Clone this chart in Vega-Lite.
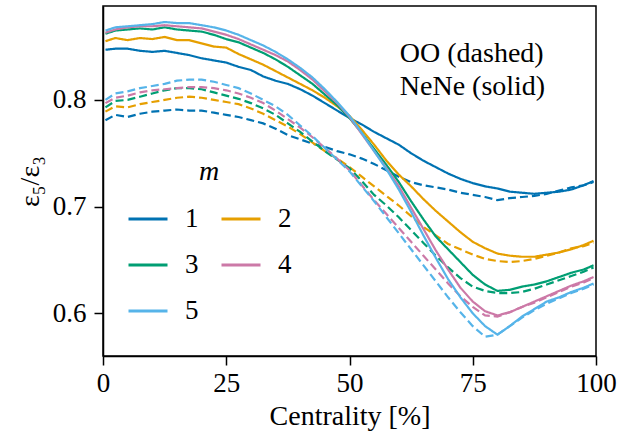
{
"$schema": "https://vega.github.io/schema/vega-lite/v6.json",
"width": 493, "height": 350,
"autosize": {"type": "none"},
"padding": {"left": 103, "top": 6, "right": 23, "bottom": 76},
"config": {
  "font": "Liberation Serif",
  "view": {"stroke": "black", "strokeWidth": 1.5}
},
"layer": [
{
"data": {"values": [
{"m":"1","c":"OO","x":0.5,"y":0.781},{"m":"1","c":"OO","x":2.5,"y":0.786},{"m":"1","c":"OO","x":5,"y":0.784},{"m":"1","c":"OO","x":7.5,"y":0.787},{"m":"1","c":"OO","x":10,"y":0.789},{"m":"1","c":"OO","x":12.5,"y":0.790},{"m":"1","c":"OO","x":15,"y":0.791},{"m":"1","c":"OO","x":17.5,"y":0.790},{"m":"1","c":"OO","x":20,"y":0.790},{"m":"1","c":"OO","x":22.5,"y":0.788},{"m":"1","c":"OO","x":25,"y":0.786},{"m":"1","c":"OO","x":27.5,"y":0.784},{"m":"1","c":"OO","x":30,"y":0.781},{"m":"1","c":"OO","x":32.5,"y":0.778},{"m":"1","c":"OO","x":35,"y":0.773},{"m":"1","c":"OO","x":37.5,"y":0.767},{"m":"1","c":"OO","x":40,"y":0.763},{"m":"1","c":"OO","x":42.5,"y":0.759},{"m":"1","c":"OO","x":45,"y":0.756},{"m":"1","c":"OO","x":47.5,"y":0.752},{"m":"1","c":"OO","x":50,"y":0.749},{"m":"1","c":"OO","x":52.5,"y":0.745},{"m":"1","c":"OO","x":55,"y":0.740},{"m":"1","c":"OO","x":57.5,"y":0.734},{"m":"1","c":"OO","x":60,"y":0.728},{"m":"1","c":"OO","x":62.5,"y":0.723},{"m":"1","c":"OO","x":65,"y":0.720},{"m":"1","c":"OO","x":67.5,"y":0.718},{"m":"1","c":"OO","x":70,"y":0.716},{"m":"1","c":"OO","x":72.5,"y":0.713},{"m":"1","c":"OO","x":75,"y":0.711},{"m":"1","c":"OO","x":77.5,"y":0.709},{"m":"1","c":"OO","x":80,"y":0.706},{"m":"1","c":"OO","x":82.5,"y":0.708},{"m":"1","c":"OO","x":85,"y":0.709},{"m":"1","c":"OO","x":87.5,"y":0.710},{"m":"1","c":"OO","x":90,"y":0.712},{"m":"1","c":"OO","x":92.5,"y":0.715},{"m":"1","c":"OO","x":95,"y":0.718},{"m":"1","c":"OO","x":97.5,"y":0.720},{"m":"1","c":"OO","x":99.5,"y":0.723},
{"m":"1","c":"NeNe","x":0.5,"y":0.847},{"m":"1","c":"NeNe","x":2.5,"y":0.848},{"m":"1","c":"NeNe","x":5,"y":0.848},{"m":"1","c":"NeNe","x":7.5,"y":0.846},{"m":"1","c":"NeNe","x":10,"y":0.845},{"m":"1","c":"NeNe","x":12.5,"y":0.846},{"m":"1","c":"NeNe","x":15,"y":0.844},{"m":"1","c":"NeNe","x":17.5,"y":0.842},{"m":"1","c":"NeNe","x":20,"y":0.839},{"m":"1","c":"NeNe","x":22.5,"y":0.837},{"m":"1","c":"NeNe","x":25,"y":0.835},{"m":"1","c":"NeNe","x":27.5,"y":0.831},{"m":"1","c":"NeNe","x":30,"y":0.828},{"m":"1","c":"NeNe","x":32.5,"y":0.822},{"m":"1","c":"NeNe","x":35,"y":0.818},{"m":"1","c":"NeNe","x":37.5,"y":0.815},{"m":"1","c":"NeNe","x":40,"y":0.810},{"m":"1","c":"NeNe","x":42.5,"y":0.804},{"m":"1","c":"NeNe","x":45,"y":0.797},{"m":"1","c":"NeNe","x":47.5,"y":0.790},{"m":"1","c":"NeNe","x":50,"y":0.783},{"m":"1","c":"NeNe","x":52.5,"y":0.777},{"m":"1","c":"NeNe","x":55,"y":0.770},{"m":"1","c":"NeNe","x":57.5,"y":0.764},{"m":"1","c":"NeNe","x":60,"y":0.758},{"m":"1","c":"NeNe","x":62.5,"y":0.750},{"m":"1","c":"NeNe","x":65,"y":0.743},{"m":"1","c":"NeNe","x":67.5,"y":0.737},{"m":"1","c":"NeNe","x":70,"y":0.731},{"m":"1","c":"NeNe","x":72.5,"y":0.726},{"m":"1","c":"NeNe","x":75,"y":0.722},{"m":"1","c":"NeNe","x":77.5,"y":0.719},{"m":"1","c":"NeNe","x":80,"y":0.717},{"m":"1","c":"NeNe","x":82.5,"y":0.714},{"m":"1","c":"NeNe","x":85,"y":0.713},{"m":"1","c":"NeNe","x":87.5,"y":0.712},{"m":"1","c":"NeNe","x":90,"y":0.713},{"m":"1","c":"NeNe","x":92.5,"y":0.714},{"m":"1","c":"NeNe","x":95,"y":0.716},{"m":"1","c":"NeNe","x":97.5,"y":0.720},{"m":"1","c":"NeNe","x":99.5,"y":0.724},
{"m":"2","c":"OO","x":0.5,"y":0.789},{"m":"2","c":"OO","x":2.5,"y":0.794},{"m":"2","c":"OO","x":5,"y":0.793},{"m":"2","c":"OO","x":7.5,"y":0.796},{"m":"2","c":"OO","x":10,"y":0.798},{"m":"2","c":"OO","x":12.5,"y":0.800},{"m":"2","c":"OO","x":15,"y":0.802},{"m":"2","c":"OO","x":17.5,"y":0.803},{"m":"2","c":"OO","x":20,"y":0.802},{"m":"2","c":"OO","x":22.5,"y":0.800},{"m":"2","c":"OO","x":25,"y":0.798},{"m":"2","c":"OO","x":27.5,"y":0.796},{"m":"2","c":"OO","x":30,"y":0.792},{"m":"2","c":"OO","x":32.5,"y":0.787},{"m":"2","c":"OO","x":35,"y":0.781},{"m":"2","c":"OO","x":37.5,"y":0.775},{"m":"2","c":"OO","x":40,"y":0.768},{"m":"2","c":"OO","x":42.5,"y":0.760},{"m":"2","c":"OO","x":45,"y":0.752},{"m":"2","c":"OO","x":47.5,"y":0.745},{"m":"2","c":"OO","x":50,"y":0.737},{"m":"2","c":"OO","x":52.5,"y":0.728},{"m":"2","c":"OO","x":55,"y":0.719},{"m":"2","c":"OO","x":57.5,"y":0.710},{"m":"2","c":"OO","x":60,"y":0.701},{"m":"2","c":"OO","x":62.5,"y":0.691},{"m":"2","c":"OO","x":65,"y":0.681},{"m":"2","c":"OO","x":67.5,"y":0.673},{"m":"2","c":"OO","x":70,"y":0.665},{"m":"2","c":"OO","x":72.5,"y":0.660},{"m":"2","c":"OO","x":75,"y":0.655},{"m":"2","c":"OO","x":77.5,"y":0.651},{"m":"2","c":"OO","x":80,"y":0.649},{"m":"2","c":"OO","x":82.5,"y":0.648},{"m":"2","c":"OO","x":85,"y":0.649},{"m":"2","c":"OO","x":87.5,"y":0.651},{"m":"2","c":"OO","x":90,"y":0.654},{"m":"2","c":"OO","x":92.5,"y":0.657},{"m":"2","c":"OO","x":95,"y":0.661},{"m":"2","c":"OO","x":97.5,"y":0.663},{"m":"2","c":"OO","x":99.5,"y":0.666},
{"m":"2","c":"NeNe","x":0.5,"y":0.855},{"m":"2","c":"NeNe","x":2.5,"y":0.858},{"m":"2","c":"NeNe","x":5,"y":0.856},{"m":"2","c":"NeNe","x":7.5,"y":0.858},{"m":"2","c":"NeNe","x":10,"y":0.857},{"m":"2","c":"NeNe","x":12.5,"y":0.859},{"m":"2","c":"NeNe","x":15,"y":0.856},{"m":"2","c":"NeNe","x":17.5,"y":0.856},{"m":"2","c":"NeNe","x":20,"y":0.853},{"m":"2","c":"NeNe","x":22.5,"y":0.850},{"m":"2","c":"NeNe","x":25,"y":0.849},{"m":"2","c":"NeNe","x":27.5,"y":0.843},{"m":"2","c":"NeNe","x":30,"y":0.838},{"m":"2","c":"NeNe","x":32.5,"y":0.833},{"m":"2","c":"NeNe","x":35,"y":0.827},{"m":"2","c":"NeNe","x":37.5,"y":0.821},{"m":"2","c":"NeNe","x":40,"y":0.815},{"m":"2","c":"NeNe","x":42.5,"y":0.809},{"m":"2","c":"NeNe","x":45,"y":0.802},{"m":"2","c":"NeNe","x":47.5,"y":0.794},{"m":"2","c":"NeNe","x":50,"y":0.785},{"m":"2","c":"NeNe","x":52.5,"y":0.772},{"m":"2","c":"NeNe","x":55,"y":0.758},{"m":"2","c":"NeNe","x":57.5,"y":0.743},{"m":"2","c":"NeNe","x":60,"y":0.730},{"m":"2","c":"NeNe","x":62.5,"y":0.719},{"m":"2","c":"NeNe","x":65,"y":0.707},{"m":"2","c":"NeNe","x":67.5,"y":0.696},{"m":"2","c":"NeNe","x":70,"y":0.686},{"m":"2","c":"NeNe","x":72.5,"y":0.676},{"m":"2","c":"NeNe","x":75,"y":0.667},{"m":"2","c":"NeNe","x":77.5,"y":0.661},{"m":"2","c":"NeNe","x":80,"y":0.656},{"m":"2","c":"NeNe","x":82.5,"y":0.654},{"m":"2","c":"NeNe","x":85,"y":0.653},{"m":"2","c":"NeNe","x":87.5,"y":0.653},{"m":"2","c":"NeNe","x":90,"y":0.655},{"m":"2","c":"NeNe","x":92.5,"y":0.657},{"m":"2","c":"NeNe","x":95,"y":0.660},{"m":"2","c":"NeNe","x":97.5,"y":0.664},{"m":"2","c":"NeNe","x":99.5,"y":0.668},
{"m":"3","c":"OO","x":0.5,"y":0.793},{"m":"3","c":"OO","x":2.5,"y":0.799},{"m":"3","c":"OO","x":5,"y":0.800},{"m":"3","c":"OO","x":7.5,"y":0.803},{"m":"3","c":"OO","x":10,"y":0.806},{"m":"3","c":"OO","x":12.5,"y":0.809},{"m":"3","c":"OO","x":15,"y":0.811},{"m":"3","c":"OO","x":17.5,"y":0.811},{"m":"3","c":"OO","x":20,"y":0.810},{"m":"3","c":"OO","x":22.5,"y":0.807},{"m":"3","c":"OO","x":25,"y":0.804},{"m":"3","c":"OO","x":27.5,"y":0.801},{"m":"3","c":"OO","x":30,"y":0.797},{"m":"3","c":"OO","x":32.5,"y":0.792},{"m":"3","c":"OO","x":35,"y":0.786},{"m":"3","c":"OO","x":37.5,"y":0.778},{"m":"3","c":"OO","x":40,"y":0.770},{"m":"3","c":"OO","x":42.5,"y":0.761},{"m":"3","c":"OO","x":45,"y":0.752},{"m":"3","c":"OO","x":47.5,"y":0.744},{"m":"3","c":"OO","x":50,"y":0.736},{"m":"3","c":"OO","x":52.5,"y":0.724},{"m":"3","c":"OO","x":55,"y":0.711},{"m":"3","c":"OO","x":57.5,"y":0.701},{"m":"3","c":"OO","x":60,"y":0.690},{"m":"3","c":"OO","x":62.5,"y":0.678},{"m":"3","c":"OO","x":65,"y":0.666},{"m":"3","c":"OO","x":67.5,"y":0.654},{"m":"3","c":"OO","x":70,"y":0.643},{"m":"3","c":"OO","x":72.5,"y":0.633},{"m":"3","c":"OO","x":75,"y":0.625},{"m":"3","c":"OO","x":77.5,"y":0.621},{"m":"3","c":"OO","x":80,"y":0.619},{"m":"3","c":"OO","x":82.5,"y":0.619},{"m":"3","c":"OO","x":85,"y":0.620},{"m":"3","c":"OO","x":87.5,"y":0.623},{"m":"3","c":"OO","x":90,"y":0.627},{"m":"3","c":"OO","x":92.5,"y":0.631},{"m":"3","c":"OO","x":95,"y":0.635},{"m":"3","c":"OO","x":97.5,"y":0.639},{"m":"3","c":"OO","x":99.5,"y":0.643},
{"m":"3","c":"NeNe","x":0.5,"y":0.862},{"m":"3","c":"NeNe","x":2.5,"y":0.865},{"m":"3","c":"NeNe","x":5,"y":0.866},{"m":"3","c":"NeNe","x":7.5,"y":0.867},{"m":"3","c":"NeNe","x":10,"y":0.866},{"m":"3","c":"NeNe","x":12.5,"y":0.868},{"m":"3","c":"NeNe","x":15,"y":0.866},{"m":"3","c":"NeNe","x":17.5,"y":0.865},{"m":"3","c":"NeNe","x":20,"y":0.864},{"m":"3","c":"NeNe","x":22.5,"y":0.861},{"m":"3","c":"NeNe","x":25,"y":0.857},{"m":"3","c":"NeNe","x":27.5,"y":0.854},{"m":"3","c":"NeNe","x":30,"y":0.849},{"m":"3","c":"NeNe","x":32.5,"y":0.844},{"m":"3","c":"NeNe","x":35,"y":0.838},{"m":"3","c":"NeNe","x":37.5,"y":0.831},{"m":"3","c":"NeNe","x":40,"y":0.823},{"m":"3","c":"NeNe","x":42.5,"y":0.815},{"m":"3","c":"NeNe","x":45,"y":0.805},{"m":"3","c":"NeNe","x":47.5,"y":0.795},{"m":"3","c":"NeNe","x":50,"y":0.783},{"m":"3","c":"NeNe","x":52.5,"y":0.769},{"m":"3","c":"NeNe","x":55,"y":0.754},{"m":"3","c":"NeNe","x":57.5,"y":0.739},{"m":"3","c":"NeNe","x":60,"y":0.723},{"m":"3","c":"NeNe","x":62.5,"y":0.705},{"m":"3","c":"NeNe","x":65,"y":0.688},{"m":"3","c":"NeNe","x":67.5,"y":0.672},{"m":"3","c":"NeNe","x":70,"y":0.660},{"m":"3","c":"NeNe","x":72.5,"y":0.648},{"m":"3","c":"NeNe","x":75,"y":0.636},{"m":"3","c":"NeNe","x":77.5,"y":0.627},{"m":"3","c":"NeNe","x":80,"y":0.621},{"m":"3","c":"NeNe","x":82.5,"y":0.622},{"m":"3","c":"NeNe","x":85,"y":0.625},{"m":"3","c":"NeNe","x":87.5,"y":0.627},{"m":"3","c":"NeNe","x":90,"y":0.630},{"m":"3","c":"NeNe","x":92.5,"y":0.634},{"m":"3","c":"NeNe","x":95,"y":0.638},{"m":"3","c":"NeNe","x":97.5,"y":0.641},{"m":"3","c":"NeNe","x":99.5,"y":0.645},
{"m":"4","c":"OO","x":0.5,"y":0.797},{"m":"4","c":"OO","x":2.5,"y":0.802},{"m":"4","c":"OO","x":5,"y":0.804},{"m":"4","c":"OO","x":7.5,"y":0.807},{"m":"4","c":"OO","x":10,"y":0.809},{"m":"4","c":"OO","x":12.5,"y":0.810},{"m":"4","c":"OO","x":15,"y":0.811},{"m":"4","c":"OO","x":17.5,"y":0.812},{"m":"4","c":"OO","x":20,"y":0.812},{"m":"4","c":"OO","x":22.5,"y":0.811},{"m":"4","c":"OO","x":25,"y":0.809},{"m":"4","c":"OO","x":27.5,"y":0.806},{"m":"4","c":"OO","x":30,"y":0.802},{"m":"4","c":"OO","x":32.5,"y":0.797},{"m":"4","c":"OO","x":35,"y":0.790},{"m":"4","c":"OO","x":37.5,"y":0.782},{"m":"4","c":"OO","x":40,"y":0.774},{"m":"4","c":"OO","x":42.5,"y":0.765},{"m":"4","c":"OO","x":45,"y":0.755},{"m":"4","c":"OO","x":47.5,"y":0.745},{"m":"4","c":"OO","x":50,"y":0.734},{"m":"4","c":"OO","x":52.5,"y":0.720},{"m":"4","c":"OO","x":55,"y":0.706},{"m":"4","c":"OO","x":57.5,"y":0.693},{"m":"4","c":"OO","x":60,"y":0.680},{"m":"4","c":"OO","x":62.5,"y":0.667},{"m":"4","c":"OO","x":65,"y":0.654},{"m":"4","c":"OO","x":67.5,"y":0.641},{"m":"4","c":"OO","x":70,"y":0.628},{"m":"4","c":"OO","x":72.5,"y":0.616},{"m":"4","c":"OO","x":75,"y":0.606},{"m":"4","c":"OO","x":77.5,"y":0.598},{"m":"4","c":"OO","x":80,"y":0.597},{"m":"4","c":"OO","x":82.5,"y":0.601},{"m":"4","c":"OO","x":85,"y":0.606},{"m":"4","c":"OO","x":87.5,"y":0.610},{"m":"4","c":"OO","x":90,"y":0.615},{"m":"4","c":"OO","x":92.5,"y":0.620},{"m":"4","c":"OO","x":95,"y":0.625},{"m":"4","c":"OO","x":97.5,"y":0.629},{"m":"4","c":"OO","x":99.5,"y":0.633},
{"m":"4","c":"NeNe","x":0.5,"y":0.863},{"m":"4","c":"NeNe","x":2.5,"y":0.866},{"m":"4","c":"NeNe","x":5,"y":0.868},{"m":"4","c":"NeNe","x":7.5,"y":0.869},{"m":"4","c":"NeNe","x":10,"y":0.869},{"m":"4","c":"NeNe","x":12.5,"y":0.870},{"m":"4","c":"NeNe","x":15,"y":0.869},{"m":"4","c":"NeNe","x":17.5,"y":0.868},{"m":"4","c":"NeNe","x":20,"y":0.867},{"m":"4","c":"NeNe","x":22.5,"y":0.864},{"m":"4","c":"NeNe","x":25,"y":0.861},{"m":"4","c":"NeNe","x":27.5,"y":0.857},{"m":"4","c":"NeNe","x":30,"y":0.852},{"m":"4","c":"NeNe","x":32.5,"y":0.847},{"m":"4","c":"NeNe","x":35,"y":0.842},{"m":"4","c":"NeNe","x":37.5,"y":0.836},{"m":"4","c":"NeNe","x":40,"y":0.828},{"m":"4","c":"NeNe","x":42.5,"y":0.819},{"m":"4","c":"NeNe","x":45,"y":0.808},{"m":"4","c":"NeNe","x":47.5,"y":0.797},{"m":"4","c":"NeNe","x":50,"y":0.784},{"m":"4","c":"NeNe","x":52.5,"y":0.768},{"m":"4","c":"NeNe","x":55,"y":0.752},{"m":"4","c":"NeNe","x":57.5,"y":0.736},{"m":"4","c":"NeNe","x":60,"y":0.719},{"m":"4","c":"NeNe","x":62.5,"y":0.699},{"m":"4","c":"NeNe","x":65,"y":0.679},{"m":"4","c":"NeNe","x":67.5,"y":0.659},{"m":"4","c":"NeNe","x":70,"y":0.641},{"m":"4","c":"NeNe","x":72.5,"y":0.624},{"m":"4","c":"NeNe","x":75,"y":0.611},{"m":"4","c":"NeNe","x":77.5,"y":0.602},{"m":"4","c":"NeNe","x":80,"y":0.598},{"m":"4","c":"NeNe","x":82.5,"y":0.601},{"m":"4","c":"NeNe","x":85,"y":0.606},{"m":"4","c":"NeNe","x":87.5,"y":0.611},{"m":"4","c":"NeNe","x":90,"y":0.616},{"m":"4","c":"NeNe","x":92.5,"y":0.621},{"m":"4","c":"NeNe","x":95,"y":0.626},{"m":"4","c":"NeNe","x":97.5,"y":0.630},{"m":"4","c":"NeNe","x":99.5,"y":0.634},
{"m":"5","c":"OO","x":0.5,"y":0.800},{"m":"5","c":"OO","x":2.5,"y":0.806},{"m":"5","c":"OO","x":5,"y":0.808},{"m":"5","c":"OO","x":7.5,"y":0.811},{"m":"5","c":"OO","x":10,"y":0.813},{"m":"5","c":"OO","x":12.5,"y":0.815},{"m":"5","c":"OO","x":15,"y":0.818},{"m":"5","c":"OO","x":17.5,"y":0.819},{"m":"5","c":"OO","x":20,"y":0.819},{"m":"5","c":"OO","x":22.5,"y":0.817},{"m":"5","c":"OO","x":25,"y":0.814},{"m":"5","c":"OO","x":27.5,"y":0.811},{"m":"5","c":"OO","x":30,"y":0.806},{"m":"5","c":"OO","x":32.5,"y":0.800},{"m":"5","c":"OO","x":35,"y":0.794},{"m":"5","c":"OO","x":37.5,"y":0.786},{"m":"5","c":"OO","x":40,"y":0.776},{"m":"5","c":"OO","x":42.5,"y":0.766},{"m":"5","c":"OO","x":45,"y":0.755},{"m":"5","c":"OO","x":47.5,"y":0.744},{"m":"5","c":"OO","x":50,"y":0.733},{"m":"5","c":"OO","x":52.5,"y":0.719},{"m":"5","c":"OO","x":55,"y":0.705},{"m":"5","c":"OO","x":57.5,"y":0.690},{"m":"5","c":"OO","x":60,"y":0.675},{"m":"5","c":"OO","x":62.5,"y":0.660},{"m":"5","c":"OO","x":65,"y":0.645},{"m":"5","c":"OO","x":67.5,"y":0.630},{"m":"5","c":"OO","x":70,"y":0.615},{"m":"5","c":"OO","x":72.5,"y":0.601},{"m":"5","c":"OO","x":75,"y":0.588},{"m":"5","c":"OO","x":77.5,"y":0.578},{"m":"5","c":"OO","x":80,"y":0.580},{"m":"5","c":"OO","x":82.5,"y":0.588},{"m":"5","c":"OO","x":85,"y":0.596},{"m":"5","c":"OO","x":87.5,"y":0.603},{"m":"5","c":"OO","x":90,"y":0.609},{"m":"5","c":"OO","x":92.5,"y":0.614},{"m":"5","c":"OO","x":95,"y":0.619},{"m":"5","c":"OO","x":97.5,"y":0.623},{"m":"5","c":"OO","x":99.5,"y":0.627},
{"m":"5","c":"NeNe","x":0.5,"y":0.865},{"m":"5","c":"NeNe","x":2.5,"y":0.868},{"m":"5","c":"NeNe","x":5,"y":0.869},{"m":"5","c":"NeNe","x":7.5,"y":0.870},{"m":"5","c":"NeNe","x":10,"y":0.871},{"m":"5","c":"NeNe","x":12.5,"y":0.873},{"m":"5","c":"NeNe","x":15,"y":0.872},{"m":"5","c":"NeNe","x":17.5,"y":0.872},{"m":"5","c":"NeNe","x":20,"y":0.870},{"m":"5","c":"NeNe","x":22.5,"y":0.868},{"m":"5","c":"NeNe","x":25,"y":0.865},{"m":"5","c":"NeNe","x":27.5,"y":0.861},{"m":"5","c":"NeNe","x":30,"y":0.856},{"m":"5","c":"NeNe","x":32.5,"y":0.851},{"m":"5","c":"NeNe","x":35,"y":0.845},{"m":"5","c":"NeNe","x":37.5,"y":0.838},{"m":"5","c":"NeNe","x":40,"y":0.830},{"m":"5","c":"NeNe","x":42.5,"y":0.821},{"m":"5","c":"NeNe","x":45,"y":0.810},{"m":"5","c":"NeNe","x":47.5,"y":0.798},{"m":"5","c":"NeNe","x":50,"y":0.785},{"m":"5","c":"NeNe","x":52.5,"y":0.769},{"m":"5","c":"NeNe","x":55,"y":0.752},{"m":"5","c":"NeNe","x":57.5,"y":0.735},{"m":"5","c":"NeNe","x":60,"y":0.716},{"m":"5","c":"NeNe","x":62.5,"y":0.695},{"m":"5","c":"NeNe","x":65,"y":0.673},{"m":"5","c":"NeNe","x":67.5,"y":0.652},{"m":"5","c":"NeNe","x":70,"y":0.632},{"m":"5","c":"NeNe","x":72.5,"y":0.615},{"m":"5","c":"NeNe","x":75,"y":0.600},{"m":"5","c":"NeNe","x":77.5,"y":0.588},{"m":"5","c":"NeNe","x":80,"y":0.580},{"m":"5","c":"NeNe","x":82.5,"y":0.588},{"m":"5","c":"NeNe","x":85,"y":0.597},{"m":"5","c":"NeNe","x":87.5,"y":0.604},{"m":"5","c":"NeNe","x":90,"y":0.611},{"m":"5","c":"NeNe","x":92.5,"y":0.615},{"m":"5","c":"NeNe","x":95,"y":0.620},{"m":"5","c":"NeNe","x":97.5,"y":0.624},{"m":"5","c":"NeNe","x":99.5,"y":0.628}
]},
"mark": {"type": "line", "strokeWidth": 2.2, "clip": true},
"encoding": {
  "x": {"field": "x", "type": "quantitative", "scale": {"domain": [0, 100], "nice": false},
        "axis": {"values": [0, 25, 50, 75, 100], "title": "Centrality [%]", "grid": false,
          "domainColor": "black", "domainWidth": 1.5, "tickColor": "black", "tickWidth": 1.5, "tickSize": 9,
          "labelFont": "Liberation Serif", "labelFontSize": 27, "labelColor": "black", "labelFlush": false, "labelOverlap": false, "labelBound": false, "labelPadding": 5,
          "titleFont": "Liberation Serif", "titleFontSize": 28, "titleFontWeight": 400, "titleColor": "black", "titlePadding": 6}},
  "y": {"field": "y", "type": "quantitative", "scale": {"domain": [0.56, 0.888], "nice": false, "zero": false},
        "axis": {"values": [0.6, 0.7, 0.8], "format": ".1f", "title": "ε₅/ε₃", "grid": false,
          "domainColor": "black", "domainWidth": 1.5, "tickColor": "black", "tickWidth": 1.5, "tickSize": 9,
          "labelFont": "Liberation Serif", "labelFontSize": 27, "labelColor": "black", "labelOverlap": false, "labelBound": false, "labelPadding": 8,
          "titleFont": "Liberation Serif", "titleFontSize": 28, "titleFontWeight": 400, "titleColor": "black", "titlePadding": 8}},
  "color": {"field": "m", "type": "nominal",
    "scale": {"domain": ["1","2","3","4","5"], "range": ["#0072B2","#E69F00","#009E73","#CC79A7","#56B4E9"]},
    "legend": {"title": "m", "orient": "none", "legendX": 24, "legendY": 152, "columns": 2, "direction": "horizontal",
      "symbolType": "stroke", "symbolSize": 1521, "symbolStrokeWidth": 3, "labelFont": "Liberation Serif", "labelFontSize": 27, "labelColor": "black", "labelOffset": 16,
      "columnPadding": 16, "rowPadding": 12, "padding": 0,
      "titleFont": "Liberation Serif", "titleFontSize": 28, "titleFontStyle": "italic", "titleFontWeight": 400, "titleColor": "black", "titleAnchor": "middle", "titlePadding": 12}},
  "strokeDash": {"field": "c", "type": "nominal", "scale": {"domain": ["NeNe", "OO"], "range": [[1, 0], [8, 4]]}, "legend": null}
}
},
{
"data": {"values": [{}]},
"mark": {"type": "text", "text": "OO (dashed)", "align": "left", "baseline": "alphabetic", "fontSize": 28, "font": "Liberation Serif", "color": "black"},
"encoding": {"x": {"datum": 60.2, "type": "quantitative"}, "y": {"datum": 0.8356, "type": "quantitative"}}
},
{
"data": {"values": [{}]},
"mark": {"type": "text", "text": "NeNe (solid)", "align": "left", "baseline": "alphabetic", "fontSize": 28, "font": "Liberation Serif", "color": "black"},
"encoding": {"x": {"datum": 60.2, "type": "quantitative"}, "y": {"datum": 0.8047, "type": "quantitative"}}
}
]
}
